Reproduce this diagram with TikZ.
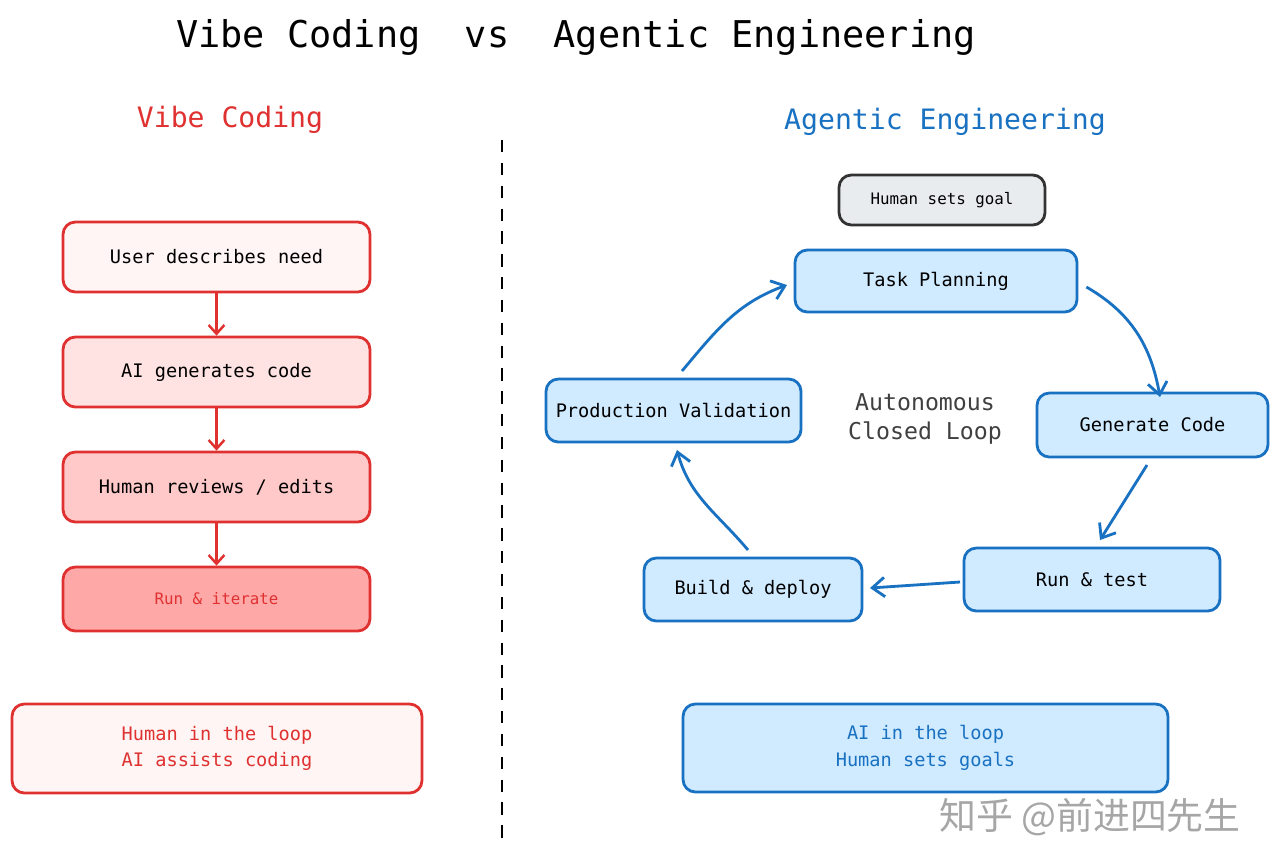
\documentclass[tikz,border=0pt]{standalone}
\usepackage{fontspec}
\setmainfont{DejaVu Sans Mono}
\newfontfamily\cjk{Noto Sans CJK SC}
\usetikzlibrary{arrows.meta}
\definecolor{rd}{HTML}{E03131}
\definecolor{bl}{HTML}{1971C2}
\definecolor{p1}{HTML}{FFF5F5}
\definecolor{p2}{HTML}{FFE3E3}
\definecolor{p3}{HTML}{FFC9C9}
\definecolor{p4}{HTML}{FFA8A8}
\definecolor{bf}{HTML}{D0EBFF}
\definecolor{gf}{HTML}{E9ECEF}
\begin{document}
\begin{tikzpicture}[x=0.02cm,y=-0.02cm,
 box/.style={line width=1.6pt,rounded corners=7pt,inner sep=0pt,align=center,font=\fontsize{10.6}{15}\selectfont},
 rbox/.style={box,draw=rd},
 bbox/.style={box,draw=bl,fill=bf},
 rar/.style={draw=rd,line width=1.4pt,-{Straight Barb[length=5pt,width=9pt]}},
 bar/.style={draw=bl,line width=1.6pt,-{Straight Barb[length=7pt,width=11pt]}}]
\useasboundingbox (0,0) rectangle (1280,866);
\fill[white] (0,0) rectangle (1280,866);
\node (t) at (576,37) {\fontsize{21}{25}\selectfont Vibe Coding\ \ vs\ \ Agentic Engineering};
\node[text=rd] (lt) at (230,120) {\fontsize{16}{20}\selectfont Vibe Coding};
\node[text=bl] (rt) at (945,122) {\fontsize{16}{20}\selectfont Agentic Engineering};
\coordinate (d1) at (502,140); \coordinate (d2) at (502,845);
\draw[line width=1.2pt,dash pattern=on 7pt off 6pt] (d1) -- (d2);
% left
\node[rbox,fill=p1,minimum width=6.14cm,minimum height=1.4cm] (a) at (216.5,257) {User describes need};
\node[rbox,fill=p2,minimum width=6.14cm,minimum height=1.4cm] (b) at (216.5,372) {AI generates code};
\node[rbox,fill=p3,minimum width=6.14cm,minimum height=1.4cm] (c) at (216.5,487) {Human reviews / edits};
\node[rbox,fill=p4,text=rd,minimum width=6.14cm,minimum height=1.28cm,font=\fontsize{9}{11}\selectfont] (d) at (216.5,599) {Run \& iterate};
\draw[rar] (a) -- (b);
\draw[rar] (b) -- (c);
\draw[rar] (c) -- (d);
\node[rbox,fill=p1,text=rd,minimum width=8.2cm,minimum height=1.78cm] (e) at (217,748.5) {Human in the loop\\AI assists coding};
% right
\node[box,draw=black!80,fill=gf,minimum width=4.12cm,minimum height=1.0cm,font=\fontsize{9}{11}\selectfont] (g) at (942,200) {Human sets goal};
\node[bbox,minimum width=5.64cm,minimum height=1.24cm] (tp) at (936,281) {Task Planning};
\node[bbox,minimum width=4.62cm,minimum height=1.28cm] (gc) at (1152.5,425) {Generate Code};
\node[bbox,minimum width=5.12cm,minimum height=1.26cm] (rt2) at (1092,579.5) {Run \& test};
\node[bbox,minimum width=4.36cm,minimum height=1.26cm] (bd) at (753,589.5) {Build \& deploy};
\node[bbox,minimum width=5.1cm,minimum height=1.26cm] (pv) at (673.5,410.5) {Production Validation};
\node[align=center,text=black!75,font=\fontsize{13.2}{16}\selectfont] (al) at (925,419) {Autonomous\\Closed Loop};
\node[bbox,text=bl,minimum width=9.7cm,minimum height=1.76cm] (f) at (925.5,748) {AI in the loop\\Human sets goals};
\draw[bar] (tp.east) ++(8,6) coordinate (s1) (s1) to[out=-30,in=100] (1160,397);
\draw[bar] (1147,465) -- (1100,540);
\draw[bar] (960,582) -- (870,588);
\draw[bar] (748,550) to[out=130,in=-75] (677,450);
\draw[bar] (682,371) to[out=50,in=200] (787,285);
\node[text=black!35,font=\cjk\fontsize{21}{24}\selectfont] (w) at (1090,817) {知乎 @前进四先生};
\end{tikzpicture}
\end{document}
